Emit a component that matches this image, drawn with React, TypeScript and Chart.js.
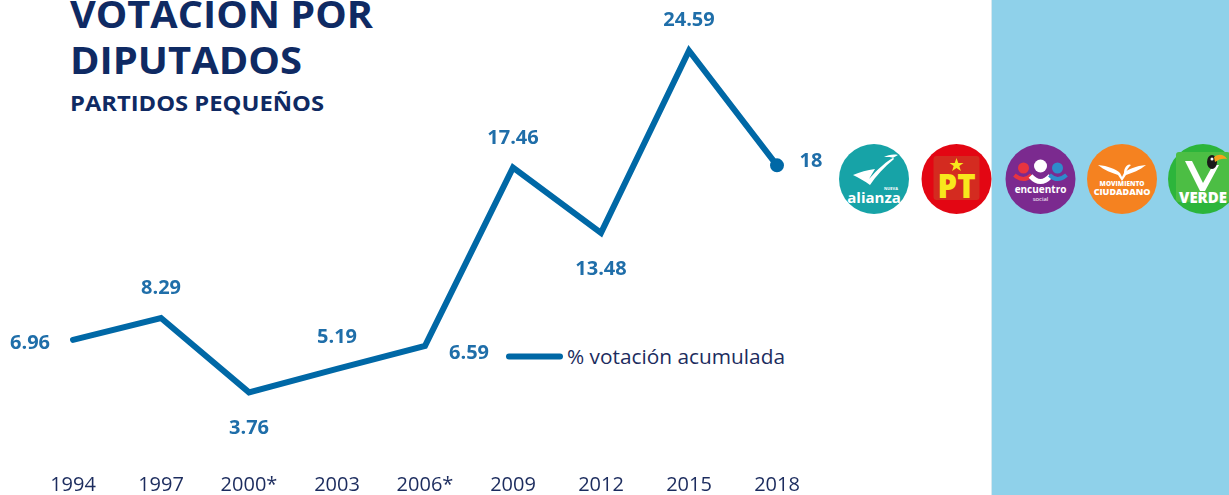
import React, { useEffect, useRef } from "react";
import { Chart, registerables } from "chart.js";

Chart.register(...registerables);

// ---- data ----
const years = ["1994", "1997", "2000*", "2003", "2006*", "2009", "2012", "2015", "2018"];
const votePct = [6.96, 8.29, 3.76, 5.19, 6.59, 17.46, 13.48, 24.59, 17.6];
const voteLabels = ["6.96", "8.29", "3.76", "5.19", "6.59", "17.46", "13.48", "24.59", "18"];
const seriesName = "% votación acumulada";
const titleLines = ["VOTACIÓN POR", "DIPUTADOS"];
const subtitle = "PARTIDOS PEQUEÑOS";
const yMin = 0;
const yMax = 27.68;

// ---- styles ----
const W = 1229;
const H = 495;
const LINE_COLOR = "#0068A6";
const LABEL_COLOR = "#1F6EA9";
const NAVY = "#0F2A63";
const TICK_COLOR = "#1C2C5E";
const FONT = '"Open Sans", sans-serif';

const labelOffsets: [number, number][] = [
  [-43, 2],
  [0, -31],
  [0, 35],
  [0, -33],
  [44, 6],
  [0, -31],
  [0, 35],
  [0, -32],
  [34, -5],
];

const valueLabelPlugin = {
  id: "valueLabels",
  afterDatasetsDraw(chart: any) {
    const meta = chart.getDatasetMeta(0);
    const ctx = chart.ctx;
    ctx.save();
    ctx.font = `bold 20px ${FONT}`;
    ctx.fillStyle = LABEL_COLOR;
    ctx.textAlign = "center";
    ctx.textBaseline = "alphabetic";
    meta.data.forEach((pt: any, i: number) => {
      const [dx, dy] = labelOffsets[i];
      ctx.fillText(voteLabels[i], pt.x + dx, pt.y + dy + 7);
    });
    ctx.restore();
  },
};

function Logos() {
  return (
    <g>
      {/* alianza */}
      <g transform="translate(874,179)">
        <circle r="35" fill="#17A3A7" />
        <path
          d="M-21,-4 C-14,-7 -7,-9 1,-10 L-5,0 C3,-9 12,-18 24,-24 C19,-25 14,-24 10,-22 C16,-22 19,-22 20,-20 C10,-12 2,-3 -4,6 C-9,2 -15,-1 -21,-4 Z"
          fill="#ffffff"
        />
        <text x="0" y="24" textAnchor="middle" fontFamily={FONT} fontWeight={700} fontSize="15" fill="#ffffff">
          alianza
        </text>
        <text x="17" y="11" textAnchor="middle" fontFamily={FONT} fontWeight={700} fontSize="4" fill="#ffffff">
          NUEVA
        </text>
      </g>
      {/* PT */}
      <g transform="translate(956.5,179)">
        <circle r="35" fill="#E30613" />
        <rect x="-23" y="-23" width="46" height="44" rx="3" fill="#D42B20" />
        <polygon
          points="0,-21 1.8,-16 7,-16 2.8,-13 4.4,-8 0,-11 -4.4,-8 -2.8,-13 -7,-16 -1.8,-16"
          fill="#F8E71C"
        />
        <text x="0" y="19" textAnchor="middle" fontFamily={FONT} fontWeight={800} fontSize="33" fill="#F8E71C" textLength="38" lengthAdjust="spacingAndGlyphs">
          PT
        </text>
      </g>
      {/* encuentro social */}
      <g transform="translate(1040.5,179)">
        <circle r="35" fill="#7B2A8F" />
        <circle cx="-17" cy="-11" r="5.5" fill="#E8343F" />
        <circle cx="0" cy="-13" r="6.5" fill="#ffffff" />
        <circle cx="17" cy="-11" r="5.5" fill="#2E8BCB" />
        <path d="M-26,-4 Q-17,4 -9,-4" stroke="#E8343F" strokeWidth="4" fill="none" />
        <path d="M-10,-3 Q0,8 10,-3" stroke="#ffffff" strokeWidth="5" fill="none" />
        <path d="M9,-4 Q17,4 26,-4" stroke="#2E8BCB" strokeWidth="4" fill="none" />
        <text x="0" y="14" textAnchor="middle" fontFamily={FONT} fontWeight={700} fontSize="10" fill="#ffffff">
          encuentro
        </text>
        <text x="0" y="22" textAnchor="middle" fontFamily={FONT} fontSize="6" fill="#ffffff">
          social
        </text>
      </g>
      {/* movimiento ciudadano */}
      <g transform="translate(1122,179)">
        <circle r="35" fill="#F58220" />
        <path
          d="M-24,-14 C-14,-13 -6,-10 -2,-6 L0,-2 L2,-6 C6,-10 14,-13 24,-14 C18,-9 10,-6 4,-4 L0,2 L-4,-4 C-10,-6 -18,-9 -24,-14 Z"
          fill="#ffffff"
        />
        <path d="M2,-6 C2,-12 6,-16 9,-14 C7,-12 5,-10 4,-6 Z" fill="#ffffff" />
        <text x="0" y="7" textAnchor="middle" fontFamily={FONT} fontWeight={800} fontSize="6.5" fill="#ffffff">
          MOVIMIENTO
        </text>
        <text x="0" y="16" textAnchor="middle" fontFamily={FONT} fontWeight={800} fontSize="9" fill="#ffffff">
          CIUDADANO
        </text>
      </g>
      {/* verde */}
      <g transform="translate(1203,179)">
        <circle r="35" fill="#2CB53B" />
        <rect x="-27" y="-27" width="54" height="50" rx="3" fill="#4CBE44" />
        <path d="M-18,-18 L-11,-18 L0,4 L10,-14 L16,-14 L2,12 L-3,12 Z" fill="#ffffff" />
        <ellipse cx="9" cy="-17" rx="5" ry="7" fill="#1A1A1A" />
        <path d="M11,-22 C16,-26 22,-24 24,-20 C20,-21 16,-20 12,-17 Z" fill="#F7A21B" />
        <circle cx="9" cy="-20" r="1.5" fill="#ffffff" />
        <text x="0" y="24" textAnchor="middle" fontFamily={FONT} fontWeight={800} fontSize="15" fill="#ffffff">
          VERDE
        </text>
      </g>
    </g>
  );
}

export default function App() {
  const canvasRef = useRef<HTMLCanvasElement | null>(null);

  useEffect(() => {
    if (!canvasRef.current) return;
    const chart = new Chart(canvasRef.current, {
      type: "line",
      data: {
        labels: years,
        datasets: [
          {
            label: seriesName,
            data: votePct,
            borderColor: LINE_COLOR,
            backgroundColor: LINE_COLOR,
            borderWidth: 6,
            borderCapStyle: "round",
            borderJoinStyle: "miter",
            tension: 0,
            fill: false,
            pointRadius: votePct.map((_, i) => (i === votePct.length - 1 ? 6 : 0)),
            pointBorderWidth: 2,
            pointBorderColor: LINE_COLOR,
            pointBackgroundColor: LINE_COLOR,
            pointHoverRadius: 0,
          },
        ],
      },
      options: {
        animation: false,
        responsive: false,
        maintainAspectRatio: false,
        devicePixelRatio: 1,
        layout: { autoPadding: false, padding: { left: 73, right: 452, top: 0, bottom: 0 } },
        plugins: {
          legend: { display: false },
          tooltip: { enabled: false },
          title: { display: false },
        },
        scales: {
          x: {
            type: "category",
            offset: false,
            grid: { display: false, drawTicks: false },
            border: { display: false },
            ticks: {
              color: TICK_COLOR,
              font: { family: FONT, size: 20 },
              padding: 19,
              maxRotation: 0,
              autoSkip: false,
            },
            afterFit: (s: any) => {
              s.height = 41;
            },
          },
          y: { display: false, min: yMin, max: yMax },
        },
      },
      plugins: [valueLabelPlugin],
    });
    return () => chart.destroy();
  }, []);

  return (
    <div style={{ position: "absolute", left: 0, top: 0, width: W, height: H, overflow: "hidden", background: "#ffffff" }}>
      <svg width={W} height={H} style={{ position: "absolute", left: 0, top: 0 }}>
        <rect x="992" y="0" width={W - 992} height={H} fill="#8FD1EA" />
        <rect x="991" y="0" width="1" height={H} fill="#D6E8EF" />
        <text x="70" y="28" fontFamily={FONT} fontWeight={700} fontSize="38" fill={NAVY} textLength="303" lengthAdjust="spacingAndGlyphs">
          {titleLines[0]}
        </text>
        <text x="70" y="74" fontFamily={FONT} fontWeight={700} fontSize="38" fill={NAVY} textLength="232" lengthAdjust="spacingAndGlyphs">
          {titleLines[1]}
        </text>
        <text x="70" y="111" fontFamily={FONT} fontWeight={700} fontSize="21" fill={NAVY} textLength="254" lengthAdjust="spacingAndGlyphs">
          {subtitle}
        </text>
        <Logos />
        <line x1="509" y1="356.5" x2="560" y2="356.5" stroke={LINE_COLOR} strokeWidth="6" strokeLinecap="round" />
        <text x="567" y="364" fontFamily={FONT} fontSize="20" fill={TICK_COLOR} textLength="218" lengthAdjust="spacingAndGlyphs">
          {seriesName}
        </text>
      </svg>
      <canvas ref={canvasRef} width={W} height={H} style={{ position: "absolute", left: 0, top: 0, width: W, height: H }} />
    </div>
  );
}
